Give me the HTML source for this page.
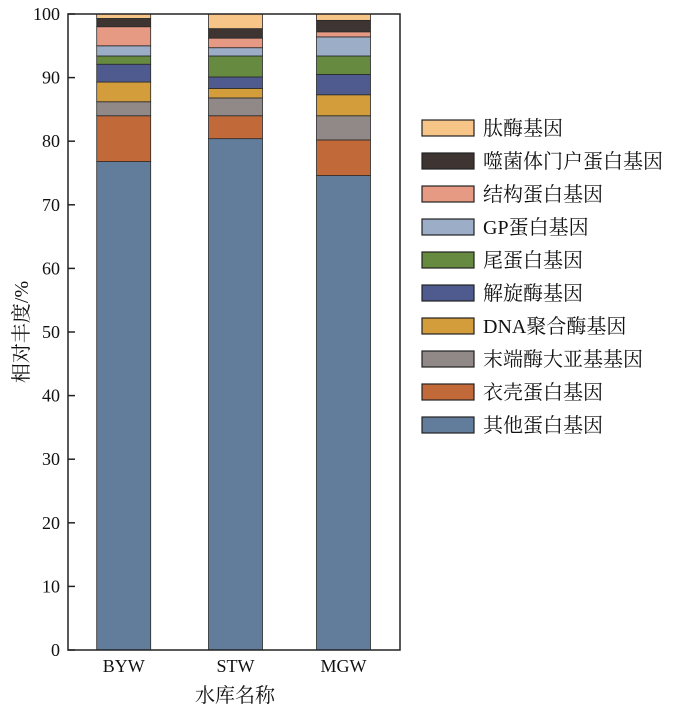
<!DOCTYPE html>
<html><head><meta charset="utf-8"><style>
body{margin:0;background:#fff}
svg text{font-family:"Liberation Serif","Noto Serif CJK SC",serif;fill:#111}
</style></head><body>
<svg width="700" height="718" id="c"></svg>
<script>
const categories=["BYW","STW","MGW"];
const seriesNames=["其他蛋白基因","衣壳蛋白基因","末端酶大亚基基因","DNA聚合酶基因","解旋酶基因","尾蛋白基因","GP蛋白基因","结构蛋白基因","噬菌体门户蛋白基因","肽酶基因"];
const colors=["#627d9c","#c2693a","#918987","#d39d3b","#4f5a8f","#658a40","#9cadc8","#e69a84","#3e3533","#f7c588"];
const other=[76.8,80.4,74.6];
const capsid=[7.2,3.6,5.6];
const terminase=[2.2,2.8,3.8];
const dnaPol=[3.1,1.5,3.3];
const helicase=[2.8,1.8,3.2];
const tail=[1.3,3.3,2.9];
const gp=[1.6,1.3,3.0];
const structural=[3.0,1.5,0.8];
const portal=[1.3,1.5,1.8];
const peptidase=[0.7,2.3,1.0];
const yTicks=[0,10,20,30,40,50,60,70,80,90,100];
const series=[other,capsid,terminase,dnaPol,helicase,tail,gp,structural,portal,peptidase];
const ns="http://www.w3.org/2000/svg",svg=document.getElementById("c");
const X0=68,X1=400,Y0=650,Y1=14;
const y=v=>Y0-(Y0-Y1)*v/100;
const centers=[123.7,235.5,343.5];
const x=i=>centers[i];
const BW=54;
function mk(t,a,p){const e=document.createElementNS(ns,t);for(const k in a)e.setAttribute(k,a[k]);(p||svg).appendChild(e);return e;}
categories.forEach((c,i)=>{let acc=0;series.forEach((s,j)=>{const r=mk("rect",{x:x(i)-BW/2,y:y(acc+s[i]),width:BW,height:y(acc)-y(acc+s[i]),fill:colors[j],stroke:"#2a2a2a","stroke-width":0.8});


acc+=s[i];});
const t=mk("text",{x:x(i),y:672,"text-anchor":"middle","font-size":18});t.textContent=c;


});
const fr=mk("rect",{x:X0,y:Y1,width:X1-X0,height:Y0-Y1,fill:"none",stroke:"#222","stroke-width":1.5});


yTicks.forEach(v=>{mk("line",{x1:X0,x2:X0+7,y1:y(v),y2:y(v),stroke:"#222","stroke-width":1.5});
const t=mk("text",{x:60,y:y(v)+6,"text-anchor":"end","font-size":18});t.textContent=v;

});
const xt=mk("text",{x:235,y:702,"text-anchor":"middle","font-size":20});xt.textContent="水库名称";


const yt=mk("text",{x:0,y:0,"text-anchor":"middle","font-size":20,transform:"translate(28,332) rotate(-90)"});yt.textContent="相对丰度/%";


for(let k=0;k<10;k++){const j=9-k;const yy=128+k*33;
const g=mk("g",{});


mk("rect",{x:422,y:yy-8,width:52,height:16,fill:colors[j],stroke:"#222","stroke-width":1.2},g);
const t=mk("text",{x:483,y:yy+7,"font-size":20},g);t.textContent=seriesNames[j];}
</script>
</body></html>
